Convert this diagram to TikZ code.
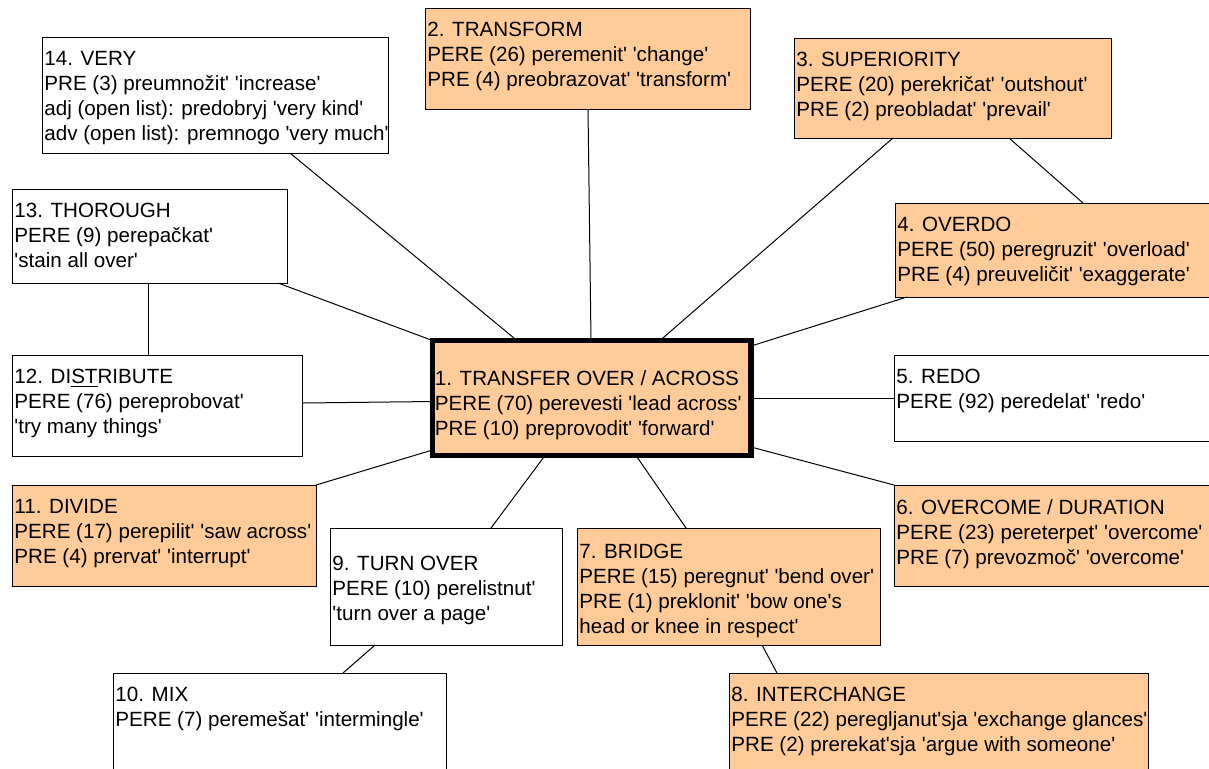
\documentclass[tikz,border=0pt]{standalone}
\usepackage{fontspec}
\newfontfamily\boxfont{Liberation Sans}
\usepackage{tikz}
\usetikzlibrary{calc}
\definecolor{peach}{RGB}{255,204,153}
\newdimen\px \px=0.5pt

\begin{document}
\begin{tikzpicture}[x=0.5pt, y=-0.5pt,
    sense/.style={draw, line width=0.5pt, rectangle, anchor=north west, inner sep=0pt, outer sep=0pt, fill=white},
    pere/.style={sense, fill=peach},
    words/.style={anchor=north west, align=left, inner xsep=1pt, inner ysep=7pt,
      font=\boxfont\fontsize{10.3}{12.5}\selectfont},
    link/.style={line width=0.5pt}]
  \useasboundingbox (0,0) rectangle (1209,768);

  % central sense
  \node[pere, line width=2.6pt, minimum width=318.5\px, minimum height=115\px,
    label={[words, inner ysep=14.8pt]north west:{1. TRANSFER OVER / ACROSS\\PERE (70) perevesti 'lead across'\\PRE (10) preprovodit' 'forward'}}]
    (ctr) at (432.5,340.5) {};

  % the other senses, clockwise from the top
  \node[pere, minimum width=325\px, minimum height=101\px,
    label={[words]north west:{2. TRANSFORM\\PERE (26) peremenit' 'change'\\PRE (4) preobrazovat' 'transform'}}]
    (trf) at (425,8) {};
  \node[pere, minimum width=317\px, minimum height=100\px,
    label={[words]north west:{3. SUPERIORITY\\PERE (20) perekričat' 'outshout'\\PRE (2) preobladat' 'prevail'}}]
    (sup) at (794,38) {};
  \node[pere, minimum width=320\px, minimum height=94\px,
    label={[words]north west:{4. OVERDO\\PERE (50) peregruzit' 'overload'\\PRE (4) preuveličit' 'exaggerate'}}]
    (ovd) at (895,203) {};
  \node[sense, minimum width=320\px, minimum height=86\px,
    label={[words]north west:{5. REDO\\PERE (92) peredelat' 'redo'}}]
    (rdo) at (894,355) {};
  \node[pere, minimum width=320\px, minimum height=101\px,
    label={[words]north west:{6. OVERCOME / DURATION\\PERE (23) pereterpet' 'overcome'\\PRE (7) prevozmoč' 'overcome'}}]
    (ovc) at (894,485) {};
  \node[pere, minimum width=303\px, minimum height=117\px,
    label={[words, inner ysep=8pt]north west:{7. BRIDGE\\PERE (15) peregnut' 'bend over'\\PRE (1) preklonit' 'bow one's\\head or knee in respect'}}]
    (brg) at (577,528) {};
  \node[pere, minimum width=419\px, minimum height=100\px,
    label={[words]north west:{8. INTERCHANGE\\PERE (22) peregljanut'sja 'exchange glances'\\PRE (2) prerekat'sja 'argue with someone'}}]
    (xch) at (729,673) {};
  \node[sense, minimum width=232\px, minimum height=117\px,
    label={[words, inner ysep=14pt]north west:{9. TURN OVER\\PERE (10) perelistnut'\\'turn over a page'}}]
    (trn) at (330,528) {};
  \node[sense, minimum width=333\px, minimum height=100\px,
    label={[words]north west:{10. MIX\\PERE (7) peremešat' 'intermingle'}}]
    (mix) at (113,673) {};
  \node[pere, minimum width=304\px, minimum height=101\px,
    label={[words]north west:{11. DIVIDE\\PERE (17) perepilit' 'saw across'\\PRE (4) prervat' 'interrupt'}}]
    (dvd) at (12,485) {};
  \node[sense, minimum width=290\px, minimum height=101\px,
    label={[words]north west:{12. DI\underline{ST}RIBUTE\\PERE (76) pereprobovat'\\'try many things'}}]
    (dst) at (12,355) {};
  \node[sense, minimum width=275\px, minimum height=94\px,
    label={[words]north west:{13. THOROUGH\\PERE (9) perepačkat'\\'stain all over'}}]
    (thr) at (12,189) {};
  \node[sense, minimum width=346\px, minimum height=116\px,
    label={[words]north west:{14. VERY\\PRE (3) preumnožit' 'increase'\\adj (open list): predobryj 'very kind'\\adv (open list): premnogo 'very much'}}]
    (vry) at (42,37) {};

  % links to the central sense
  \draw[link] ($(vry.south west)+(248,0)$) -- ($(ctr.north west)+(84.5,0)$);
  \draw[link] ($(trf.south west)+(163,0)$) -- ($(ctr.north west)+(158.5,0)$);
  \draw[link] ($(sup.south west)+(99,0)$) -- ($(ctr.north west)+(227.5,0)$);
  \draw[link] ($(ovd.south west)+(12,0)$) -- ($(ctr.north east)+(0,5.5)$);
  \draw[link] ($(rdo.north west)+(0,43)$) -- ($(ctr.north east)+(0,57.5)$);
  \draw[link] (ovc.north west) -- ($(ctr.south east)+(0,-8.5)$);
  \draw[link] ($(brg.north west)+(109,0)$) -- ($(ctr.south west)+(203.5,0)$);
  \draw[link] ($(trn.north west)+(161,0)$) -- ($(ctr.south west)+(112.5,0)$);
  \draw[link] (dvd.north east) -- ($(ctr.south west)+(0,-5.5)$);
  \draw[link] ($(dst.north east)+(0,48)$) -- ($(ctr.north west)+(0,61)$);
  \draw[link] ($(thr.south west)+(266,0)$) -- (ctr.north west);

  % links between outer senses
  \draw[link] ($(sup.south west)+(215,0)$) -- ($(ovd.north west)+(188,0)$);
  \draw[link] ($(brg.south west)+(185,0)$) -- ($(xch.north west)+(48,0)$);
  \draw[link] ($(trn.south west)+(45,0)$) -- ($(mix.north west)+(230,0)$);
  \draw[link] ($(thr.south west)+(136,0)$) -- ($(dst.north west)+(136,0)$);
\end{tikzpicture}
\end{document}
